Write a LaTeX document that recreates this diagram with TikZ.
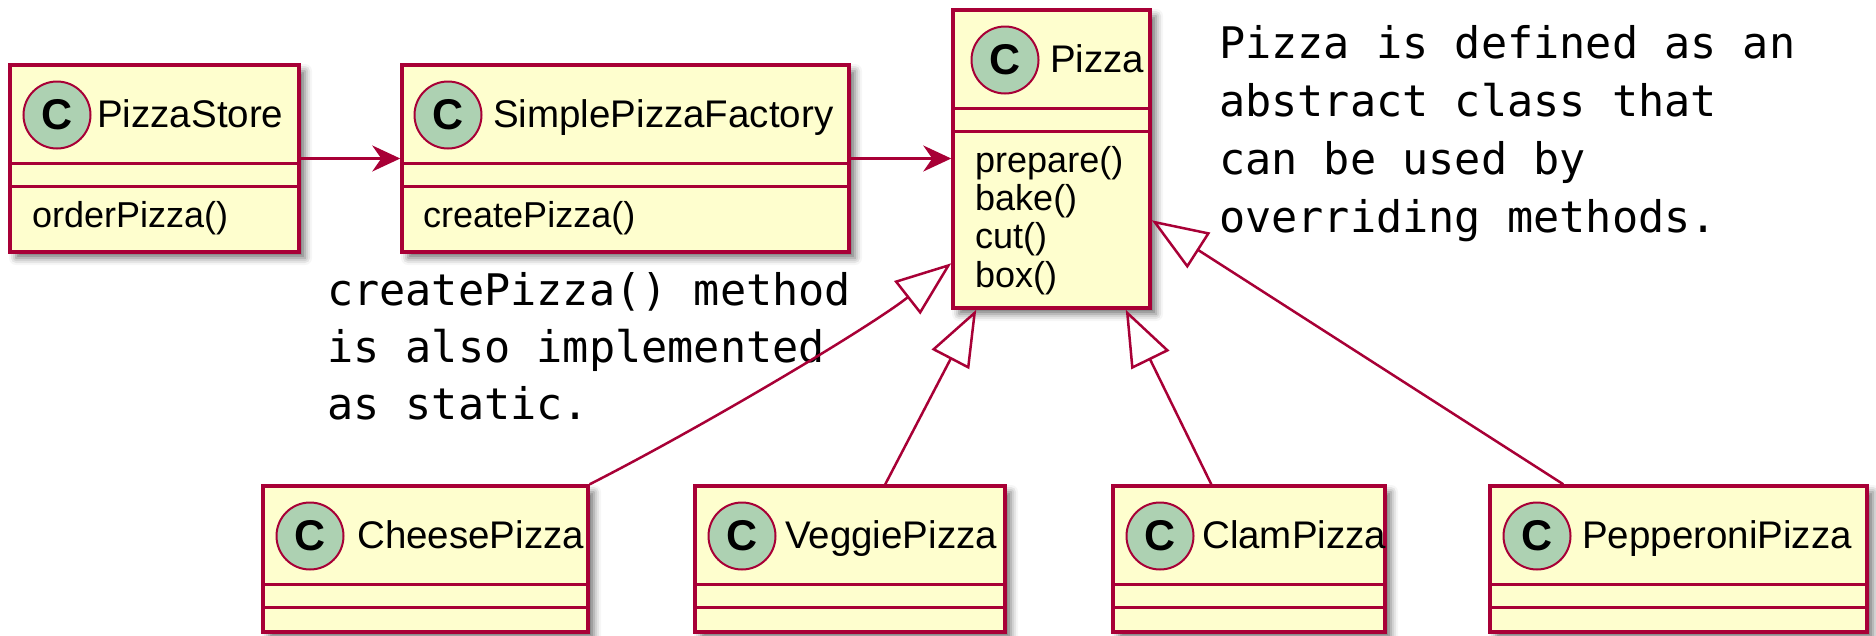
\documentclass[tikz,border=0pt]{standalone}
\usepackage{fontspec}
\usetikzlibrary{arrows.meta,shadows.blur}
\newfontfamily\lsans{Liberation Sans}
\newfontfamily\dmono{DejaVu Sans Mono}
\definecolor{umlborder}{HTML}{A80036}
\definecolor{umlfill}{HTML}{FEFECE}
\definecolor{umlcirc}{HTML}{ADD1B2}
\tikzset{
  classbox/.style={rectangle, draw=umlborder, line width=3.5pt, fill=umlfill, inner sep=0pt,
    blur shadow={shadow xshift=6pt, shadow yshift=-6pt, shadow blur radius=7pt, shadow opacity=55}},
  sepline/.style={draw=umlborder, line width=3pt},
  circ/.style={circle, draw=umlborder, line width=2pt, fill=umlcirc, minimum size=67pt, inner sep=0pt,
    font=\lsans\bfseries\fontsize{43}{43}\selectfont},
  titletext/.style={inner sep=0pt, anchor=base west, font=\lsans\fontsize{38.5}{46}\selectfont},
  methodtext/.style={inner sep=0pt, anchor=base west, font=\lsans\fontsize{36}{38}\selectfont},
  notetext/.style={inner sep=0pt, anchor=base west, font=\dmono\fontsize{43.5}{57}\selectfont},
  assoc/.style={draw=umlborder, line width=2.5pt, -{Stealth[length=28pt,width=26pt,inset=9pt]}},
  inherit/.style={draw=umlborder, line width=2.5pt, -{Triangle[open,length=56pt,width=42pt]}}
}
% #1 name, #2 left, #3 top, #4 width, #5 height, #6 circle x, #7 title x, #8 title
\newcommand{\umlclass}[8]{%
  \node[classbox, minimum width=#4pt, minimum height=#5pt] (#1) at ({#2+#4/2},{#3+#5/2}) {};
  \draw[sepline] ([yshift=-100pt]#1.north west) -- ([yshift=-100pt]#1.north east);
  \draw[sepline] ([yshift=-123pt]#1.north west) -- ([yshift=-123pt]#1.north east);
  \node[circ] (#1-c) at ({#6},{#3+50}) {C};
  \node[titletext] (#1-t) at ({#7},{#3+62}) {#8};
}
\begin{document}
\begin{tikzpicture}[x=1pt,y=-1pt]
\useasboundingbox (0,0) rectangle (1876,635);

\umlclass{store}{10}{65}{289}{187}{57}{97}{PizzaStore}
\node[methodtext] (store-m1) at (32,227) {orderPizza()};

\umlclass{factory}{402}{65}{447}{187}{448}{493}{SimplePizzaFactory}
\node[methodtext] (factory-m1) at (423,227) {createPizza()};

\umlclass{pizza}{953}{10}{197}{298}{1005}{1050}{Pizza}
\node[methodtext] (pizza-m1) at (975,172) {prepare()};
\node[methodtext] (pizza-m2) at (975,210) {bake()};
\node[methodtext] (pizza-m3) at (975,248) {cut()};
\node[methodtext] (pizza-m4) at (975,287) {box()};

\umlclass{cheese}{263}{486}{325}{146}{310}{357}{CheesePizza}
\umlclass{veggie}{695}{486}{310}{146}{742}{785}{VeggiePizza}
\umlclass{clam}{1113}{486}{272}{146}{1160}{1202}{ClamPizza}
\umlclass{pepperoni}{1490}{486}{377}{146}{1537}{1582}{PepperoniPizza}

% notes
\node[notetext] (n1a) at (327,305) {createPizza() method};
\node[notetext] (n1b) at (327,362) {is also implemented};
\node[notetext] (n1c) at (327,419) {as static.};

\node[notetext] (n2a) at (1219,58) {Pizza is defined as an};
\node[notetext] (n2b) at (1219,116) {abstract class that};
\node[notetext] (n2c) at (1219,174) {can be used by};
\node[notetext] (n2d) at (1219,232) {overriding methods.};

% associations
\draw[assoc] (store.east) -- (factory.west);
\draw[assoc] (factory.east) -- (factory.east -| pizza.west);

% inheritance
\draw[inherit] (cheese.north east) .. controls +(112,-57) and +(-83,65) .. ([yshift=-255pt]pizza.north west);
\draw[inherit] ([xshift=192pt]veggie.north west) -- ([xshift=25pt]pizza.south west);
\draw[inherit] ([xshift=100pt]clam.north west) -- ([xshift=-26pt]pizza.south east);
\draw[inherit] ([xshift=75pt]pepperoni.north west) -- ([yshift=-212pt]pizza.north east);
\end{tikzpicture}
\end{document}
